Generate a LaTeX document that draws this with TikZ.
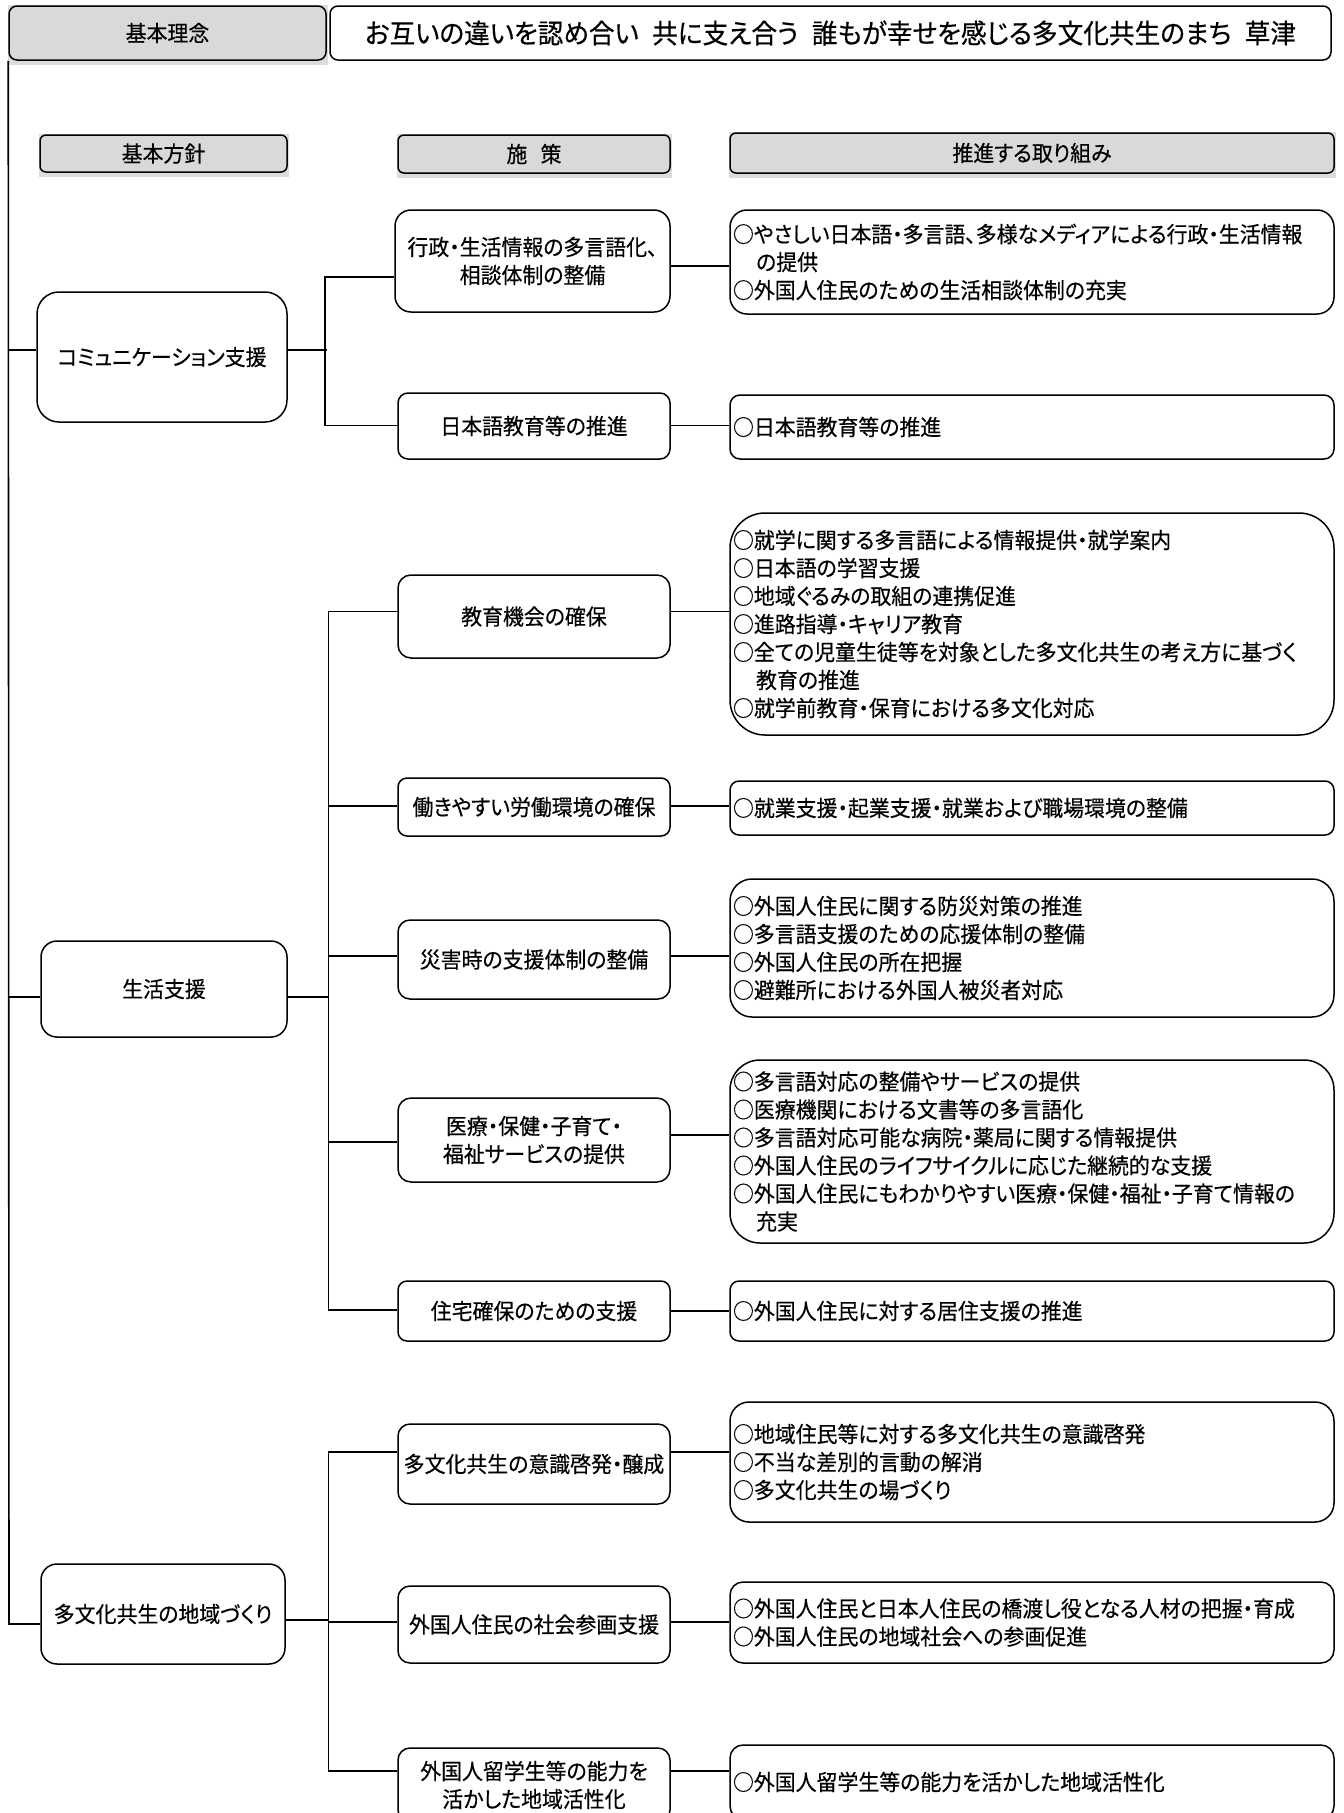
\documentclass[tikz,border=0pt]{standalone}
\usepackage{fontspec}
\setmainfont{Noto Sans CJK JP}[FakeStretch=0.95,FakeBold=0.4,RawFeature=+palt]
\usetikzlibrary{backgrounds}
\definecolor{hdr}{HTML}{D9D9D9}
\definecolor{shd}{HTML}{DCDCDC}
\tikzset{
  x=1pt, y=-1pt,
  ln/.style={line width=1.6pt, draw=black},
  bx/.style={draw=black, line width=1.5pt, fill=white, inner sep=0pt, align=center,
             font=\fontsize{22}{28}\selectfont},
  hd/.style={bx, fill=hdr, rounded corners=6pt},
  lst/.style={bx, align=left, inner xsep=3pt, text width=598pt, minimum width=604pt},
  mid/.style={bx, minimum width=272pt},
}
\begin{document}
\begin{tikzpicture}
\useasboundingbox (0,0) rectangle (1344,1813);
% header
\node[hd, minimum width=317pt, minimum height=54pt, rounded corners=8pt] (top1) at (167.5,33) {基本理念};
\node[bx, minimum width=1001pt, minimum height=54pt, rounded corners=8pt, font=\fontsize{27}{32}\selectfont] (top2) at (830.5,33)
  {お互いの違いを認め合い\hspace{0.5em}共に支え合う\hspace{0.5em}誰もが幸せを感じる多文化共生のまち\hspace{0.5em}草津};
\node[hd, minimum width=247pt, minimum height=37pt] (h1) at (163.5,153.5) {基本方針};
\node[hd, minimum width=272pt, minimum height=38pt] (h2) at (534,154) {施\hspace{0.6em}策};
\node[hd, minimum width=604pt, minimum height=40pt] (h3) at (1032,153) {推進する取り組み};

% column 1
\node[bx, minimum width=250pt, minimum height=130pt, rounded corners=22pt] (p1) at (162,357) {コミュニケーション支援};
\node[bx, minimum width=246pt, minimum height=96pt, rounded corners=16pt] (p2) at (164,989) {生活支援};
\node[bx, minimum width=244pt, minimum height=100pt, rounded corners=16pt] (p3) at (163,1614) {多文化共生の地域づくり};

% column 2
\node[mid, minimum width=275pt, minimum height=102pt, rounded corners=16pt] (s1) at (532.5,261) {行政・生活情報の多言語化、\\相談体制の整備};
\node[mid, minimum height=66pt, rounded corners=10pt] (s2) at (534,426) {日本語教育等の推進};
\node[mid, minimum height=83pt, rounded corners=13pt] (s3) at (534,616.5) {教育機会の確保};
\node[mid, minimum height=58pt, rounded corners=9pt] (s4) at (534,807) {働きやすい労働環境の確保};
\node[mid, minimum height=79pt, rounded corners=12pt] (s5) at (534,959.5) {災害時の支援体制の整備};
\node[mid, minimum height=84pt, rounded corners=13pt] (s6) at (534,1140) {医療・保健・子育て・\\福祉サービスの提供};
\node[mid, minimum height=60pt, rounded corners=9pt] (s7) at (534,1311) {住宅確保のための支援};
\node[mid, minimum height=80pt, rounded corners=12pt] (s8) at (534,1464) {多文化共生の意識啓発・醸成};
\node[mid, minimum height=77pt, rounded corners=12pt] (s9) at (534,1624.5) {外国人住民の社会参画支援};
\node[mid, minimum height=74pt, rounded corners=12pt] (s10) at (534,1785) {外国人留学生等の能力を\\活かした地域活性化};

% column 3
\node[lst, minimum height=104pt, rounded corners=17pt] (t1) at (1032,262)
  {○やさしい日本語・多言語、多様なメディアによる行政・生活情報\\\hspace*{1.05em}の提供\\○外国人住民のための生活相談体制の充実};
\node[lst, minimum height=64pt, rounded corners=10pt] (t2) at (1032,427) {○日本語教育等の推進};
\node[lst, minimum height=222pt, rounded corners=35pt] (t3) at (1032,624)
  {○就学に関する多言語による情報提供・就学案内\\○日本語の学習支援\\○地域ぐるみの取組の連携促進\\○進路指導・キャリア教育\\○全ての児童生徒等を対象とした多文化共生の考え方に基づく\\\hspace*{1.05em}教育の推進\\○就学前教育・保育における多文化対応};
\node[lst, minimum height=54pt, rounded corners=9pt] (t4) at (1032,808) {○就業支援・起業支援・就業および職場環境の整備};
\node[lst, minimum height=138pt, rounded corners=22pt] (t5) at (1032,948)
  {○外国人住民に関する防災対策の推進\\○多言語支援のための応援体制の整備\\○外国人住民の所在把握\\○避難所における外国人被災者対応};
\node[lst, minimum height=183pt, rounded corners=30pt] (t6) at (1032,1151.5)
  {○多言語対応の整備やサービスの提供\\○医療機関における文書等の多言語化\\○多言語対応可能な病院・薬局に関する情報提供\\○外国人住民のライフサイクルに応じた継続的な支援\\○外国人住民にもわかりやすい医療・保健・福祉・子育て情報の\\\hspace*{1.05em}充実};
\node[lst, minimum height=60pt, rounded corners=9pt] (t7) at (1032,1311) {○外国人住民に対する居住支援の推進};
\node[lst, minimum height=120pt, rounded corners=19pt] (t8) at (1032,1462)
  {○地域住民等に対する多文化共生の意識啓発\\○不当な差別的言動の解消\\○多文化共生の場づくり};
\node[lst, minimum height=81pt, rounded corners=13pt] (t9) at (1032,1622.5)
  {○外国人住民と日本人住民の橋渡し役となる人材の把握・育成\\○外国人住民の地域社会への参画促進};
\node[lst, minimum height=74pt, rounded corners=13pt] (t10) at (1032,1782) {○外国人留学生等の能力を活かした地域活性化};

% trunk
\coordinate (ta) at (9,350);
\coordinate (tb) at (9,997);
\coordinate (tc) at (9,1624);
\draw[ln] (top1.south west) -- (tc) -- (tc -| p3.west);
\draw[ln] (ta) -- (ta -| p1.west);
\draw[ln] (tb) -- (tb -| p2.west);

% bracket 1
\coordinate (b1t) at (327,277);
\coordinate (b1m) at (327,350);
\coordinate (b1b) at (327,425.5);
\draw[ln] (b1t -| s1.west) -- ([xshift=-2pt]b1t) -- ([xshift=-2pt]b1t |- b1b) -- (b1b -| s2.west);
\draw[ln] (p1.east |- b1m) -- (b1m);

% bracket 2
\coordinate (b2t) at (328.5,611.6);
\coordinate (b2m) at (328.5,997);
\coordinate (b2b) at (328.5,1310);
\draw[ln] (b2t -| s3.west) -- (b2t) -- (b2b) -- (b2b -| s7.west);
\draw[ln] (p2.east |- b2m) -- (b2m);
\foreach \s/\yy in {s4/806, s5/956, s6/1142}{
  \coordinate (q) at (328.5,\yy);
  \draw[ln] (q) -- (q -| \s.west);
}

% bracket 3
\coordinate (b3t) at (328.5,1452);
\coordinate (b3m) at (328.5,1620);
\coordinate (b3b) at (328.5,1771);
\draw[ln] (b3t -| s8.west) -- (b3t) -- (b3b) -- (b3b -| s10.west);
\draw[ln] (p3.east |- b3m) -- (b3m);
\coordinate (q9) at (328.5,1622);
\draw[ln] (q9) -- (q9 -| s9.west);

% column 2 -> column 3
\foreach \a/\b/\yy in {s1/t1/266, s2/t2/425.5, s3/t3/611.6, s4/t4/806, s5/t5/956,
                       s6/t6/1135, s7/t7/1311, s8/t8/1452, s9/t9/1622, s10/t10/1771}{
  \coordinate (r) at (700,\yy);
  \draw[ln] (r -| \a.east) -- (r -| \b.west);
}

% shadows and background
\begin{scope}[on background layer]
  \fill[white] (0,0) rectangle (1344,1813);
  \foreach \n in {top1,h1,h2,h3}
    \fill[shd] (\n.north west) rectangle ([shift={(1.5,4)}]\n.south east);
\end{scope}
\end{tikzpicture}
\end{document}
